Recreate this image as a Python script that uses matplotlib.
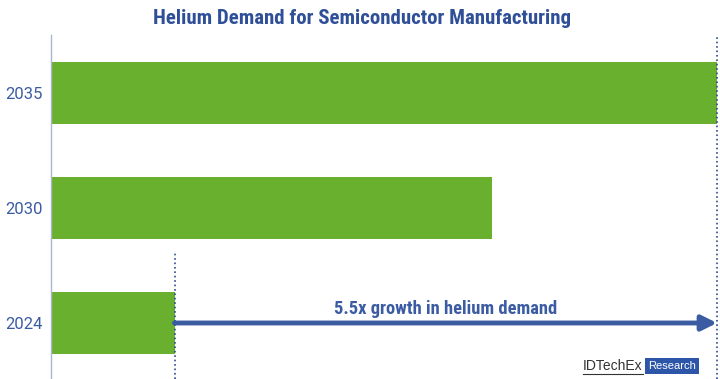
import matplotlib.pyplot as plt

# data (relative helium demand, 2024 = 1)
years = ['2024', '2030', '2035']
demand = [1.02, 3.64, 5.5]
growth_label = '5.5x growth in helium demand'

green = '#6AB02F'
blue = '#3B5CA3'
cond = ['Roboto Condensed', 'Roboto', 'DejaVu Sans']

fig = plt.figure(figsize=(7.2, 3.79), dpi=100)
ax = fig.add_axes([51 / 720, 0.0, 666 / 720, 344 / 379])

ypos = list(range(len(years)))
ax.barh(ypos, demand, height=0.54, color=green, zorder=2)
ax.set_xlim(0, max(demand))
ax.set_ylim(-0.487, 2.504)
ax.set_yticks(ypos)
ax.set_yticklabels(years, color=blue, fontsize=12, family='Roboto')
ax.set_xticks([])
ax.tick_params(axis='y', length=0, pad=6)

for s in ['top', 'right', 'bottom']:
    ax.spines[s].set_visible(False)
ax.spines['left'].set_color('#A9B5D6')
ax.spines['left'].set_linewidth(1)

# dotted guides at start and end values
ax.plot([demand[0], demand[0]], [-0.487, 0.63], ls=':', color='#2B4A8F', lw=1.2, zorder=3, clip_on=False)
ax.plot([demand[-1], demand[-1]], [-0.487, 2.504], ls=':', color='#2B4A8F', lw=1.2, zorder=3, clip_on=False)

# growth arrow
ax.annotate('', xy=(demand[-1], 0.0), xytext=(demand[0], 0.0),
            arrowprops=dict(arrowstyle='-|>,head_length=0.9,head_width=0.45', color=blue, lw=3.5,
                            shrinkA=0, shrinkB=0), zorder=4, annotation_clip=False)
ax.text((demand[0] + demand[-1]) / 2, 0.045, growth_label, ha='center', va='bottom',
        color=blue, fontsize=13.3, fontweight='bold', family=cond)

fig.text(362 / 720, 1 - 18 / 379, 'Helium Demand for Semiconductor Manufacturing',
         ha='center', va='center', color='#2F4F99', fontsize=15, fontweight='bold', family=cond)

# logo
fig.text(583 / 720, 1 - 366 / 379, 'IDTechEx', ha='left', va='center', color='#333333',
         fontsize=10, family='Liberation Sans')
fig.add_artist(plt.Line2D([583 / 720, 643 / 720], [1 - 374 / 379, 1 - 374 / 379], color='#333333', lw=0.8))
fig.text(672 / 720, 1 - 366 / 379, 'Research', ha='center', va='center', color='white',
         fontsize=8, family='Liberation Sans',
         bbox=dict(boxstyle='square,pad=0.25', fc='#2E56A8', ec='none'))

fig.savefig('out.png', dpi=100)
